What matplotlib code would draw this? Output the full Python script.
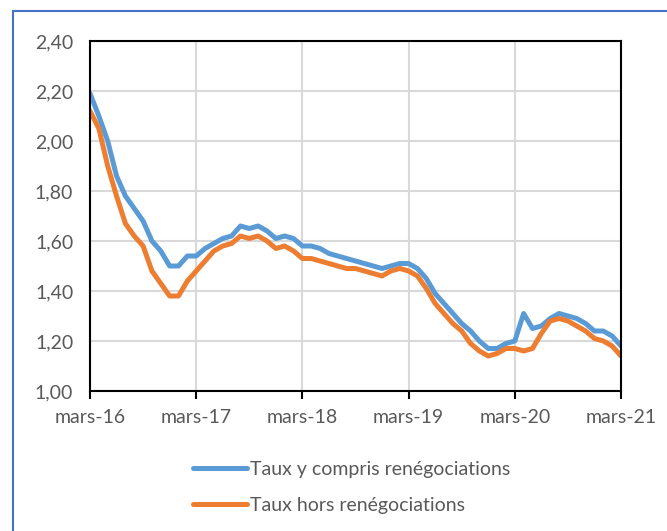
import matplotlib.pyplot as plt
import numpy as np
from matplotlib.patches import Rectangle

plt.rcParams['font.family'] = ['Lato', 'DejaVu Sans']

# taux mensuels, mars 2016 -> mars 2021
taux_avec_reneg = [2.19, 2.10, 2.00, 1.86, 1.78, 1.73, 1.68, 1.60, 1.56, 1.50,
                   1.50, 1.54, 1.54, 1.57, 1.59, 1.61, 1.62, 1.66, 1.65, 1.66,
                   1.64, 1.61, 1.62, 1.61, 1.58, 1.58, 1.57, 1.55, 1.54, 1.53,
                   1.52, 1.51, 1.50, 1.49, 1.50, 1.51, 1.51, 1.49, 1.45, 1.39,
                   1.35, 1.31, 1.27, 1.24, 1.20, 1.17, 1.17, 1.19, 1.20, 1.31,
                   1.25, 1.26, 1.29, 1.31, 1.30, 1.29, 1.27, 1.24, 1.24, 1.22,
                   1.18]
taux_hors_reneg = [2.12, 2.05, 1.90, 1.78, 1.67, 1.62, 1.58, 1.48, 1.43, 1.38,
                   1.38, 1.44, 1.48, 1.52, 1.56, 1.58, 1.59, 1.62, 1.61, 1.62,
                   1.60, 1.57, 1.58, 1.56, 1.53, 1.53, 1.52, 1.51, 1.50, 1.49,
                   1.49, 1.48, 1.47, 1.46, 1.48, 1.49, 1.48, 1.46, 1.41, 1.35,
                   1.31, 1.27, 1.24, 1.19, 1.16, 1.14, 1.15, 1.17, 1.17, 1.16,
                   1.17, 1.23, 1.28, 1.29, 1.28, 1.26, 1.24, 1.21, 1.20, 1.18,
                   1.14]
x_labels = ['mars-16', 'mars-17', 'mars-18', 'mars-19', 'mars-20', 'mars-21']

mois = np.arange(len(taux_avec_reneg))
gris = '#595959'

fig = plt.figure(figsize=(6.67, 5.31), dpi=100)
ax = fig.add_axes([90/667, 1-391/531, 531/667, 350/531])

ax.plot(mois, taux_avec_reneg, color='#5B9BD5', linewidth=3.6,
        solid_capstyle='round', label='Taux y compris renégociations')
ax.plot(mois, taux_hors_reneg, color='#ED7D31', linewidth=3.6,
        solid_capstyle='round', label='Taux hors renégociations')

ax.set_xlim(0, 60)
ax.set_ylim(1.0, 2.4)
ax.set_yticks(np.arange(1.0, 2.41, 0.2))
ax.set_yticklabels([('%.2f' % v).replace('.', ',') for v in np.arange(1.0, 2.41, 0.2)])
ax.set_xticks(np.arange(0, 61, 12))
ax.set_xticklabels(x_labels)

ax.grid(True, color='#d9d9d9', linewidth=1.5)
ax.set_axisbelow(True)
for s in ax.spines.values():
    s.set_color('black')
    s.set_linewidth(1.5)

ax.tick_params(axis='x', direction='out', length=6, width=1.5, pad=7,
               labelsize=14, labelcolor=gris)
ax.tick_params(axis='y', length=0, pad=12, labelsize=14, labelcolor=gris)

# legende sous le graphique
fig.legend(loc='upper left', bbox_to_anchor=(185/667, 1-453/531),
           frameon=False, fontsize=14, handlelength=2.8, handletextpad=0.15,
           labelspacing=1.0, labelcolor=gris, borderaxespad=0)

# cadre bleu du graphique
fig.patches.append(Rectangle((12.5/667, -0.05), 1.1, 1.05 - 10.5/531,
                             transform=fig.transFigure, fill=False,
                             edgecolor='#4472C4', linewidth=1.5))

fig.savefig('out.png', dpi=100)
